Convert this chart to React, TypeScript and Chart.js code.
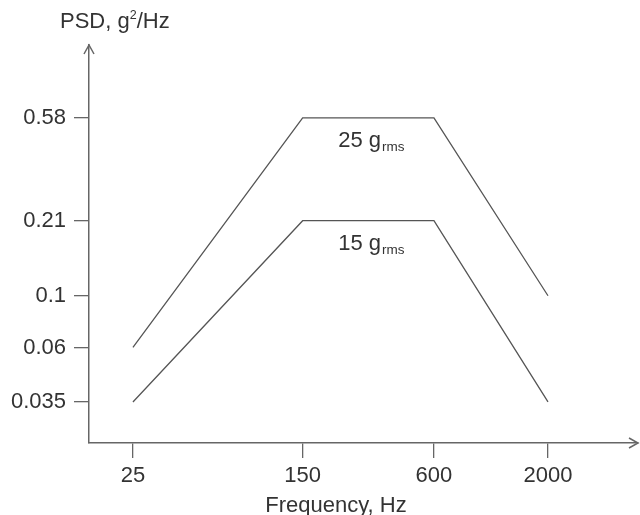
import React, { useEffect, useRef } from 'react';
import { Chart, registerables } from 'chart.js';

Chart.register(...registerables);

const frequencies = [25, 150, 600, 2000];
const psd25 = [0.06, 0.58, 0.58, 0.1];
const psd15 = [0.035, 0.21, 0.21, 0.035];
const xTicks = [25, 150, 600, 2000];
const yTicks = [0.035, 0.06, 0.1, 0.21, 0.58];
const seriesLabels = ['25', '15'];
const yTitleParts = ['PSD, g', '2', '/Hz'];
const xTitle = 'Frequency, Hz';

const FONT = '"Liberation Sans", Arial, Helvetica, sans-serif';
const AXIS = '#666666';
const LINE = '#555555';
const TEXT = '#333333';
const FS = 22;

const decorPlugin = {
  id: 'decor',
  afterDraw(chart: any) {
    const ctx = chart.ctx as CanvasRenderingContext2D;
    const xs = chart.scales.x;
    const ys = chart.scales.y;
    const { left, top, right, bottom } = chart.chartArea;
    ctx.save();
    // arrows
    ctx.strokeStyle = AXIS;
    ctx.lineWidth = 1.5;
    ctx.beginPath();
    ctx.moveTo(left - 5, top + 9);
    ctx.lineTo(left, top);
    ctx.lineTo(left + 5, top + 9);
    ctx.stroke();
    ctx.beginPath();
    ctx.moveTo(right - 9, bottom - 5);
    ctx.lineTo(right, bottom);
    ctx.lineTo(right - 9, bottom + 5);
    ctx.stroke();

    // series labels
    ctx.fillStyle = TEXT;
    ctx.textBaseline = 'alphabetic';
    ctx.textAlign = 'left';
    const cx = xs.getPixelForValue(Math.sqrt(frequencies[1] * frequencies[2])) + 3;
    const levels = [psd25[1], psd15[1]];
    levels.forEach((lvl, i) => {
      const base = ys.getPixelForValue(lvl) + 29;
      const main = `${seriesLabels[i]} g`;
      ctx.font = `${FS}px ${FONT}`;
      const w1 = ctx.measureText(main).width;
      ctx.font = `13.5px ${FONT}`;
      const w2 = ctx.measureText('rms').width;
      const x0 = cx - (w1 + w2 + 1) / 2;
      ctx.font = `${FS}px ${FONT}`;
      ctx.fillText(main, x0, base);
      ctx.font = `13.5px ${FONT}`;
      ctx.fillText('rms', x0 + w1 + 1, base + 4);
    });

    // y title (horizontal, top)
    let tx = 60;
    const ty = 28;
    ctx.font = `${FS}px ${FONT}`;
    ctx.fillText(yTitleParts[0], tx, ty);
    tx += ctx.measureText(yTitleParts[0]).width;
    ctx.font = `12.5px ${FONT}`;
    ctx.fillText(yTitleParts[1], tx, ty - 9);
    tx += ctx.measureText(yTitleParts[1]).width;
    ctx.font = `${FS}px ${FONT}`;
    ctx.fillText(yTitleParts[2], tx, ty);

    // x title
    ctx.textAlign = 'center';
    ctx.fillText(xTitle, 336, 512);
    ctx.restore();
  },
};

export default function App() {
  const ref = useRef<HTMLCanvasElement | null>(null);

  useEffect(() => {
    document.body.style.margin = '0';
    const canvas = ref.current;
    if (!canvas) return;
    const mk = (vals: number[]) => frequencies.map((f, i) => ({ x: f, y: vals[i] }));
    const chart = new Chart(canvas, {
      type: 'line',
      data: {
        datasets: [
          {
            label: '25 grms',
            data: mk(psd25),
            borderColor: LINE,
            borderWidth: 1.3,
            pointRadius: 0,
            fill: false,
            tension: 0,
          },
          {
            label: '15 grms',
            data: mk(psd15),
            borderColor: LINE,
            borderWidth: 1.3,
            pointRadius: 0,
            fill: false,
            tension: 0,
          },
        ],
      },
      options: {
        animation: false,
        responsive: false,
        layout: { padding: { top: 45, right: 2, left: 0, bottom: 0 } },
        plugins: { legend: { display: false }, tooltip: { enabled: false }, title: { display: false } },
        scales: {
          x: {
            type: 'logarithmic',
            min: 15.72,
            max: 5173,
            afterBuildTicks: (s: any) => {
              s.ticks = xTicks.map((v) => ({ value: v }));
            },
            afterFit: (s: any) => {
              s.height = 72;
            },
            ticks: {
              autoSkip: false,
              maxRotation: 0,
              padding: 5,
              color: TEXT,
              font: { family: FONT, size: FS },
              callback: (v: any) => String(v),
            },
            grid: { drawOnChartArea: false, drawTicks: true, tickLength: 15, color: AXIS, lineWidth: 1.3 },
            border: { display: true, color: AXIS, width: 1.5 },
          },
          y: {
            type: 'logarithmic',
            min: 0.02333,
            max: 1.193,
            afterBuildTicks: (s: any) => {
              s.ticks = yTicks.map((v) => ({ value: v }));
            },
            afterFit: (s: any) => {
              s.width = 89;
            },
            ticks: {
              autoSkip: false,
              padding: 8,
              color: TEXT,
              font: { family: FONT, size: FS },
              callback: (v: any) => String(v),
            },
            grid: { drawOnChartArea: false, drawTicks: true, tickLength: 15, color: AXIS, lineWidth: 1.3 },
            border: { display: true, color: AXIS, width: 1.5 },
          },
        },
      },
      plugins: [decorPlugin],
    });
    return () => chart.destroy();
  }, []);

  return <canvas ref={ref} width={640} height={515} style={{ display: 'block' }} />;
}
